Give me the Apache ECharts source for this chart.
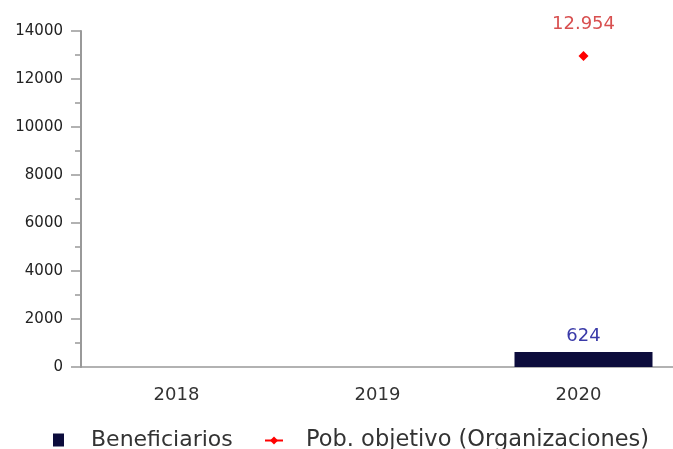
<!DOCTYPE html>
<html><head><meta charset="utf-8">
<script src="https://cdn.jsdelivr.net/npm/echarts@6/dist/echarts.min.js"></script>
<style>html,body{margin:0;padding:0;background:#fff;overflow:hidden}#c{width:700px;height:449px}</style>
</head><body><div id="c"></div>
<script>
var categories = ['2018', '2019', '2020'];
var beneficiarios = [null, null, 624];
var pobObjetivo = [null, null, 12954];
var yTicks = [0, 2000, 4000, 6000, 8000, 10000, 12000, 14000];

function fmt(v) { return String(v).replace(/\B(?=(\d{3})+(?!\d))/g, '.'); }

var chart = echarts.init(document.getElementById('c'));
chart.setOption({
  animation: false,
  textStyle: { fontFamily: 'DejaVu Sans' },
  grid: { left: 81, top: 31, width: 603, height: 336 },
  legend: [
    { data: [{ name: 'Beneficiarios', icon: 'rect' }], left: 53, top: 429, padding: 0, itemWidth: 11, itemHeight: 13,
      textStyle: { fontSize: 22, color: '#333', padding: [0, 0, 0, 22] } },
    { data: ['Pob. objetivo (Organizaciones)'], left: 264, top: 429, padding: 0, itemWidth: 18, itemHeight: 10,
      textStyle: { fontSize: 22.5, color: '#333', padding: [0, 0, 0, 18] } }
  ],
  xAxis: {
    type: 'category', data: categories,
    axisLine: { lineStyle: { color: '#999', width: 1.5 } },
    axisTick: { show: false },
    axisLabel: { fontSize: 18, color: '#333', margin: 19, padding: [0, 10, 0, 0] }
  },
  yAxis: {
    type: 'value', min: yTicks[0], max: yTicks[yTicks.length - 1], interval: 2000,
    axisLine: { show: true, lineStyle: { color: '#999', width: 2 } },
    axisTick: { show: true, length: 10, lineStyle: { color: '#999', width: 1.5 } },
    minorTick: { show: true, splitNumber: 2, length: 6, lineStyle: { color: '#999', width: 1.5 } },
    splitLine: { show: false },
    axisLabel: { fontSize: 15, color: '#222', margin: 18, formatter: function (v) { return String(v); } }
  },
  series: [
    { name: 'Beneficiarios', type: 'bar', data: beneficiarios, barWidth: 138,
      itemStyle: { color: '#0c0c3c' },
      label: { show: true, position: 'top', distance: 7, fontSize: 18, color: '#3a3aa8',
        formatter: function (p) { return fmt(p.value); } } },
    { name: 'Pob. objetivo (Organizaciones)', type: 'line', data: pobObjetivo,
      symbol: 'diamond', symbolSize: 10, itemStyle: { color: '#ff0000' }, lineStyle: { color: '#ff0000', width: 2 },
      label: { show: true, position: 'top', distance: 18, fontSize: 18, color: '#d85050',
        formatter: function (p) { return fmt(p.value); } } }
  ]
});
</script></body></html>
